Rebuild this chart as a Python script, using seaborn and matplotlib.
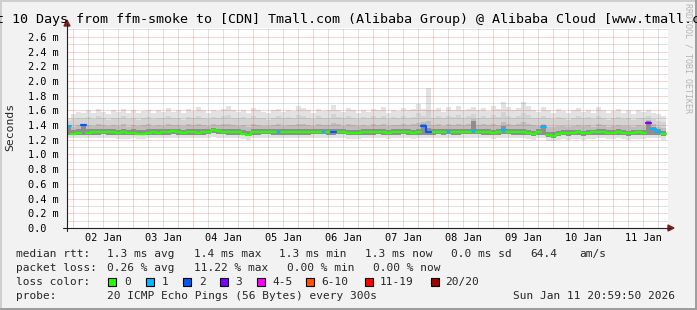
import numpy as np
import pandas as pd
import matplotlib
matplotlib.use("Agg")
import matplotlib.pyplot as plt
import matplotlib.dates as mdates
from matplotlib.ticker import MultipleLocator, FuncFormatter, NullFormatter
from matplotlib.patches import Rectangle, Polygon
from matplotlib.lines import Line2D
import seaborn as sns

# ---------------- data ----------------
TITLE = "Last 10 Days from ffm-smoke to [CDN] Tmall.com (Alibaba Group) @ Alibaba Cloud [www.tmall.com]"
Y_LABEL = "Seconds"
WATERMARK = "RRDTOOL / TOBI OETIKER"
START = "2026-01-01 21:00"
STEP = "2h"
X_START = "2026-01-01 21:36"
X_END = "2026-01-11 22:00"
Y_MAX_MS = 2.72

median_ms = [
    1.39, 1.28, 1.29, 1.40, 1.29, 1.30, 1.30, 1.31, 1.30, 1.30,
    1.29, 1.30, 1.29, 1.29, 1.28, 1.28, 1.29, 1.30, 1.29, 1.30,
    1.30, 1.32, 1.30, 1.29, 1.30, 1.30, 1.29, 1.30, 1.31, 1.33,
    1.32, 1.31, 1.30, 1.30, 1.30, 1.28, 1.27, 1.30, 1.30, 1.31,
    1.31, 1.30, 1.30, 1.30, 1.30, 1.30, 1.30, 1.30, 1.30, 1.31,
    1.31, 1.31, 1.30, 1.30, 1.31, 1.31, 1.29, 1.29, 1.29, 1.30,
    1.30, 1.30, 1.31, 1.30, 1.29, 1.30, 1.30, 1.31, 1.30, 1.29,
    1.30, 1.39, 1.30, 1.30, 1.31, 1.30, 1.31, 1.30, 1.30, 1.31,
    1.31, 1.32, 1.31, 1.30, 1.30, 1.29, 1.30, 1.33, 1.31, 1.30,
    1.30, 1.30, 1.29, 1.28, 1.30, 1.38, 1.27, 1.25, 1.28, 1.29,
    1.29, 1.29, 1.30, 1.29, 1.29, 1.30, 1.30, 1.30, 1.29, 1.29,
    1.30, 1.29, 1.29, 1.29, 1.30, 1.29, 1.43, 1.35, 1.30, 1.28,
]

loss_pings = [
    1, 0, 0, 2, 0, 0, 0, 0, 0, 0,
    0, 0, 0, 0, 0, 0, 0, 0, 0, 0,
    0, 0, 0, 0, 0, 0, 0, 0, 0, 0,
    0, 0, 0, 0, 0, 0, 0, 0, 0, 0,
    0, 0, 1, 0, 0, 0, 0, 0, 0, 0,
    0, 1, 0, 2, 0, 0, 0, 0, 0, 0,
    0, 0, 0, 0, 0, 0, 0, 0, 0, 0,
    0, 2, 2, 0, 0, 0, 1, 0, 0, 0,
    0, 1, 0, 0, 0, 0, 0, 1, 0, 0,
    0, 0, 0, 0, 0, 1, 0, 0, 0, 0,
    0, 0, 0, 0, 0, 0, 0, 0, 0, 0,
    0, 0, 0, 0, 0, 0, 3, 1, 1, 0,
]

rtt_max = [
    1.50, 1.55, 1.58, 1.56, 1.60, 1.57, 1.62, 1.58, 1.55, 1.60,
    1.58, 1.62, 1.57, 1.60, 1.56, 1.59, 1.61, 1.57, 1.60, 1.58,
    1.63, 1.58, 1.60, 1.56, 1.62, 1.59, 1.64, 1.60, 1.57, 1.61,
    1.59, 1.62, 1.66, 1.60, 1.58, 1.61, 1.57, 1.63, 1.60, 1.58,
    1.56, 1.60, 1.62, 1.58, 1.61, 1.59, 1.66, 1.63, 1.60, 1.57,
    1.62, 1.59, 1.60, 1.67, 1.61, 1.58, 1.63, 1.60, 1.57, 1.61,
    1.58, 1.62, 1.60, 1.64, 1.57, 1.61, 1.59, 1.63, 1.60, 1.62,
    1.69, 1.62, 1.90, 1.60, 1.63, 1.58, 1.64, 1.61, 1.66, 1.60,
    1.62, 1.65, 1.60, 1.63, 1.59, 1.66, 1.62, 1.72, 1.64, 1.60,
    1.63, 1.71, 1.66, 1.61, 1.58, 1.64, 1.60, 1.57, 1.62, 1.59,
    1.56, 1.60, 1.63, 1.58, 1.61, 1.57, 1.64, 1.60, 1.56, 1.59,
    1.62, 1.57, 1.60, 1.55, 1.61, 1.58, 1.60, 1.57, 1.55, 1.52,
]

rtt_p90 = [
    1.45, 1.48, 1.50, 1.49, 1.51, 1.48, 1.52, 1.50, 1.47, 1.50,
    1.49, 1.52, 1.48, 1.50, 1.47, 1.49, 1.51, 1.48, 1.50, 1.49,
    1.52, 1.49, 1.50, 1.47, 1.51, 1.50, 1.53, 1.50, 1.48, 1.51,
    1.50, 1.52, 1.54, 1.50, 1.49, 1.51, 1.48, 1.52, 1.50, 1.49,
    1.47, 1.50, 1.52, 1.49, 1.51, 1.50, 1.54, 1.52, 1.50, 1.48,
    1.52, 1.50, 1.50, 1.55, 1.51, 1.49, 1.52, 1.50, 1.48, 1.51,
    1.49, 1.52, 1.50, 1.53, 1.48, 1.51, 1.50, 1.52, 1.50, 1.51,
    1.56, 1.52, 1.60, 1.50, 1.52, 1.49, 1.53, 1.51, 1.54, 1.50,
    1.52, 1.55, 1.50, 1.52, 1.50, 1.54, 1.51, 1.58, 1.53, 1.50,
    1.52, 1.57, 1.54, 1.50, 1.49, 1.53, 1.50, 1.48, 1.51, 1.49,
    1.47, 1.50, 1.52, 1.49, 1.51, 1.48, 1.52, 1.50, 1.47, 1.49,
    1.51, 1.48, 1.50, 1.47, 1.50, 1.49, 1.52, 1.48, 1.46, 1.44,
]

rtt_p75 = [
    1.40, 1.38, 1.40, 1.42, 1.40, 1.39, 1.41, 1.40, 1.39, 1.40,
    1.39, 1.41, 1.38, 1.40, 1.39, 1.40, 1.41, 1.39, 1.40, 1.39,
    1.41, 1.40, 1.40, 1.39, 1.41, 1.40, 1.42, 1.40, 1.39, 1.41,
    1.40, 1.41, 1.42, 1.40, 1.39, 1.40, 1.38, 1.41, 1.40, 1.39,
    1.39, 1.40, 1.41, 1.39, 1.40, 1.40, 1.42, 1.41, 1.40, 1.39,
    1.41, 1.40, 1.40, 1.43, 1.41, 1.39, 1.41, 1.40, 1.39, 1.40,
    1.39, 1.41, 1.40, 1.42, 1.39, 1.40, 1.40, 1.41, 1.40, 1.41,
    1.43, 1.44, 1.45, 1.40, 1.41, 1.39, 1.42, 1.40, 1.42, 1.40,
    1.41, 1.48, 1.40, 1.41, 1.40, 1.42, 1.40, 1.44, 1.41, 1.40,
    1.41, 1.44, 1.42, 1.40, 1.39, 1.42, 1.38, 1.37, 1.39, 1.39,
    1.38, 1.39, 1.40, 1.39, 1.40, 1.38, 1.41, 1.40, 1.38, 1.39,
    1.40, 1.39, 1.39, 1.38, 1.40, 1.39, 1.47, 1.41, 1.38, 1.36,
]

rtt_p60 = [
    1.40, 1.33, 1.34, 1.41, 1.34, 1.34, 1.35, 1.34, 1.34, 1.34,
    1.33, 1.34, 1.33, 1.34, 1.33, 1.33, 1.34, 1.34, 1.34, 1.34,
    1.34, 1.35, 1.34, 1.33, 1.34, 1.34, 1.34, 1.34, 1.35, 1.36,
    1.35, 1.35, 1.34, 1.34, 1.34, 1.33, 1.32, 1.34, 1.34, 1.35,
    1.35, 1.34, 1.34, 1.34, 1.34, 1.34, 1.35, 1.34, 1.34, 1.35,
    1.35, 1.35, 1.34, 1.34, 1.35, 1.35, 1.33, 1.33, 1.33, 1.34,
    1.34, 1.34, 1.35, 1.34, 1.33, 1.34, 1.34, 1.35, 1.34, 1.33,
    1.34, 1.41, 1.36, 1.34, 1.35, 1.34, 1.35, 1.34, 1.34, 1.35,
    1.35, 1.46, 1.35, 1.34, 1.34, 1.33, 1.34, 1.39, 1.35, 1.34,
    1.34, 1.34, 1.33, 1.32, 1.34, 1.40, 1.31, 1.30, 1.32, 1.33,
    1.33, 1.33, 1.33, 1.32, 1.33, 1.33, 1.34, 1.34, 1.33, 1.33,
    1.34, 1.33, 1.32, 1.33, 1.33, 1.33, 1.45, 1.38, 1.34, 1.32,
]

rtt_p25 = [
    1.27, 1.26, 1.27, 1.27, 1.27, 1.27, 1.27, 1.28, 1.27, 1.27,
    1.26, 1.26, 1.26, 1.27, 1.26, 1.26, 1.27, 1.27, 1.27, 1.27,
    1.27, 1.28, 1.27, 1.27, 1.27, 1.27, 1.27, 1.27, 1.28, 1.29,
    1.28, 1.28, 1.27, 1.27, 1.27, 1.26, 1.25, 1.27, 1.27, 1.28,
    1.28, 1.27, 1.27, 1.27, 1.27, 1.27, 1.27, 1.27, 1.27, 1.28,
    1.28, 1.28, 1.27, 1.27, 1.28, 1.28, 1.26, 1.26, 1.26, 1.27,
    1.27, 1.27, 1.28, 1.27, 1.26, 1.27, 1.27, 1.28, 1.27, 1.26,
    1.27, 1.27, 1.27, 1.27, 1.28, 1.27, 1.28, 1.27, 1.27, 1.28,
    1.28, 1.28, 1.28, 1.27, 1.27, 1.26, 1.27, 1.28, 1.28, 1.27,
    1.27, 1.27, 1.26, 1.25, 1.27, 1.27, 1.24, 1.23, 1.25, 1.26,
    1.25, 1.26, 1.26, 1.25, 1.26, 1.26, 1.27, 1.27, 1.26, 1.26,
    1.27, 1.26, 1.25, 1.26, 1.26, 1.26, 1.27, 1.27, 1.27, 1.25,
]

rtt_min = [
    1.23, 1.22, 1.22, 1.22, 1.22, 1.22, 1.23, 1.23, 1.22, 1.22,
    1.21, 1.21, 1.21, 1.22, 1.21, 1.21, 1.22, 1.22, 1.22, 1.22,
    1.22, 1.23, 1.22, 1.22, 1.22, 1.22, 1.22, 1.22, 1.23, 1.24,
    1.23, 1.23, 1.22, 1.22, 1.22, 1.21, 1.20, 1.22, 1.22, 1.23,
    1.23, 1.23, 1.22, 1.22, 1.22, 1.22, 1.22, 1.22, 1.22, 1.23,
    1.23, 1.23, 1.22, 1.22, 1.23, 1.23, 1.21, 1.21, 1.21, 1.22,
    1.22, 1.22, 1.23, 1.22, 1.21, 1.22, 1.22, 1.23, 1.22, 1.21,
    1.22, 1.22, 1.22, 1.22, 1.23, 1.22, 1.23, 1.22, 1.22, 1.23,
    1.23, 1.23, 1.23, 1.22, 1.22, 1.21, 1.22, 1.23, 1.23, 1.22,
    1.22, 1.22, 1.21, 1.20, 1.22, 1.22, 1.19, 1.18, 1.20, 1.21,
    1.20, 1.21, 1.21, 1.20, 1.21, 1.21, 1.22, 1.22, 1.21, 1.21,
    1.22, 1.21, 1.20, 1.21, 1.21, 1.21, 1.22, 1.22, 1.22, 1.20,
]

loss_labels = ["0", "1", "2", "3", "4-5", "6-10", "11-19", "20/20"]
loss_upper = [0, 1, 2, 3, 5, 10, 19, 20]
loss_colors = ["#26ff00", "#00b8ff", "#0059ff", "#7e00ff",
               "#ff00ff", "#ff5500", "#ff0000", "#a10000"]

rtt_stats = ["median rtt:", "1.3 ms avg", "1.4 ms max", "1.3 ms min",
             "1.3 ms now", "0.0 ms sd", "64.4", "am/s"]
loss_stats = ["packet loss:", "0.26 % avg", "11.22 % max", "0.00 % min", "0.00 % now"]
loss_color_title = "loss color:"
probe_info = ["probe:", "20 ICMP Echo Pings (56 Bytes) every 300s", "Sun Jan 11 20:59:50 2026"]

# ---------------- layout / style ----------------
W, H = 697, 310
MONO = "DejaVu Sans Mono"
BG = "#f2f2f2"
SMOKE = ["#e2e2e2", "#d3d3d3", "#bdbdbd", "#8e8e8e"]

sns.set_style("white")
plt.rcParams["font.family"] = [MONO]


def fx(x):
    return x / W


def fy(y):
    return 1 - y / H


fig = plt.figure(figsize=(W / 100, H / 100), dpi=100, facecolor=BG)
ax = fig.add_axes([fx(67), fy(228), 601 / W, 200 / H])
ax.set_facecolor("white")

n = len(median_ms)
times = pd.date_range(START, periods=n + 1, freq=STEP)
tnum = times.to_numpy()


def ext(a):
    a = np.asarray(a, dtype=float)
    return np.append(a, a[-1])


# smoke
bands = [(rtt_min, rtt_max), (rtt_p25, rtt_p90), (rtt_p25, rtt_p75), (rtt_p25, rtt_p60)]
for (lo, hi), col in zip(bands, SMOKE):
    ax.fill_between(tnum, ext(lo), ext(hi), step="post", color=col, lw=0, zorder=1)


def loss_colour(k):
    for j, ub in enumerate(loss_upper):
        if k <= ub:
            return loss_colors[j]
    return loss_colors[-1]


runs = []
for i in range(n):
    c = loss_colour(loss_pings[i])
    if runs and runs[-1][0] == c:
        runs[-1][1].append(i)
    else:
        runs.append((c, [i]))
rows = []
for r, (c, idxs) in enumerate(runs):
    for i in idxs:
        rows.append((times[i], median_ms[i], r, c))
    last = idxs[-1]
    rows.append((times[last + 1], median_ms[last], r, c))
df = pd.DataFrame(rows, columns=["time", "rtt", "run", "colour"])
sns.lineplot(data=df, x="time", y="rtt", hue="colour", units="run", estimator=None,
             palette={c: c for c in df["colour"].unique()}, drawstyle="steps-post",
             lw=1.6, legend=False, ax=ax, zorder=4)

ax.set_xlim(pd.Timestamp(X_START), pd.Timestamp(X_END))
ax.set_ylim(0, Y_MAX_MS)
ax.set_xlabel("")
ax.set_ylabel("")
for s in ax.spines.values():
    s.set_visible(False)

ax.xaxis.set_major_locator(mdates.HourLocator(byhour=[0]))
ax.xaxis.set_minor_locator(mdates.HourLocator(byhour=[6, 12, 18]))
ax.xaxis.set_major_formatter(NullFormatter())


def xfmt(v, p):
    d = mdates.num2date(v)
    return d.strftime("%d %b") if d.hour == 12 else ""


ax.xaxis.set_minor_formatter(FuncFormatter(xfmt))
ax.yaxis.set_major_locator(MultipleLocator(0.2))
ax.yaxis.set_minor_locator(MultipleLocator(0.1))
ax.yaxis.set_major_formatter(FuncFormatter(
    lambda v, p: "0.0  " if abs(v) < 1e-9 else f"{v:.1f} m"))

ax.set_axisbelow(False)
ax.grid(True, which="major", color=(0.87, 0.31, 0.31), alpha=0.5, lw=0.72, ls=(0, (1, 1)))
ax.grid(True, which="minor", color=(0.56, 0.56, 0.56), alpha=0.55, lw=0.72, ls=(0, (1, 1)))

ax.tick_params(axis="x", which="both", length=0, pad=3.5, labelsize=7.4, colors="black")
ax.tick_params(axis="y", which="major", length=3, width=0.8, color="#303030",
               direction="out", pad=3, labelsize=7.4, labelcolor="black")
ax.tick_params(axis="y", which="minor", length=0)

# axes lines and arrows
AX_COL = "#1f1f1f"
AR_COL = "#801f1f"
fig.add_artist(Line2D([fx(67), fx(67)], [fy(231), fy(24)], color=AX_COL, lw=0.8))
fig.add_artist(Line2D([fx(63), fx(670)], [fy(228), fy(228)], color=AX_COL, lw=0.8))
fig.add_artist(Polygon([[fx(67), fy(20)], [fx(64), fy(26)], [fx(70), fy(26)]],
                       closed=True, color=AR_COL, transform=fig.transFigure))
fig.add_artist(Polygon([[fx(674), fy(228)], [fx(668), fy(225)], [fx(668), fy(231)]],
                       closed=True, color=AR_COL, transform=fig.transFigure))

# frame shading
fig.add_artist(Rectangle((0, fy(2)), 1, 2 / H, transform=fig.transFigure, color="#cfcfcf", lw=0))
fig.add_artist(Rectangle((0, 0), 2 / W, 1, transform=fig.transFigure, color="#cfcfcf", lw=0))
fig.add_artist(Rectangle((0, 0), 1, 2 / H, transform=fig.transFigure, color="#9e9e9e", lw=0))
fig.add_artist(Rectangle((fx(695), 0), 2 / W, 1, transform=fig.transFigure, color="#9e9e9e", lw=0))

# texts
fig.text(fx(348.5), fy(19), TITLE, ha="center", va="center", fontsize=9.6, color="black")
fig.text(fx(10), fy(127), Y_LABEL, rotation=90, ha="center", va="center", fontsize=8.2)
fig.text(fx(688), fy(58), WATERMARK, rotation=270, ha="center", va="center",
         fontsize=6.0, color="#b4b4b4")

LS = 8.0
row1_x = [16, 107, 194, 279, 365, 451, 530, 579]
for s, x in zip(rtt_stats, row1_x):
    fig.text(fx(x), fy(257), s, ha="left", va="baseline", fontsize=LS)
row2_x = [16, 107, 194, 287, 373]
for s, x in zip(loss_stats, row2_x):
    fig.text(fx(x), fy(271), s, ha="left", va="baseline", fontsize=LS)
fig.text(fx(16), fy(285), loss_color_title, ha="left", va="baseline", fontsize=LS)
box_x = [108, 145.5, 182.5, 220, 257, 306, 365, 430.5]
lab_x = [124, 161.5, 199, 235.5, 272.5, 321.5, 380, 445.5]
for lab, col, bx, lx in zip(loss_labels, loss_colors, box_x, lab_x):
    fig.add_artist(Rectangle((fx(bx), fy(286)), 8 / W, 8 / H, transform=fig.transFigure,
                             facecolor=col, edgecolor="black", lw=0.8))
    fig.text(fx(lx), fy(285), lab, ha="left", va="baseline", fontsize=LS)
row4_x = [16, 107, 513]
for s, x in zip(probe_info, row4_x):
    fig.text(fx(x), fy(299), s, ha="left", va="baseline", fontsize=LS)

fig.savefig("out.png", dpi=100, facecolor=BG)
